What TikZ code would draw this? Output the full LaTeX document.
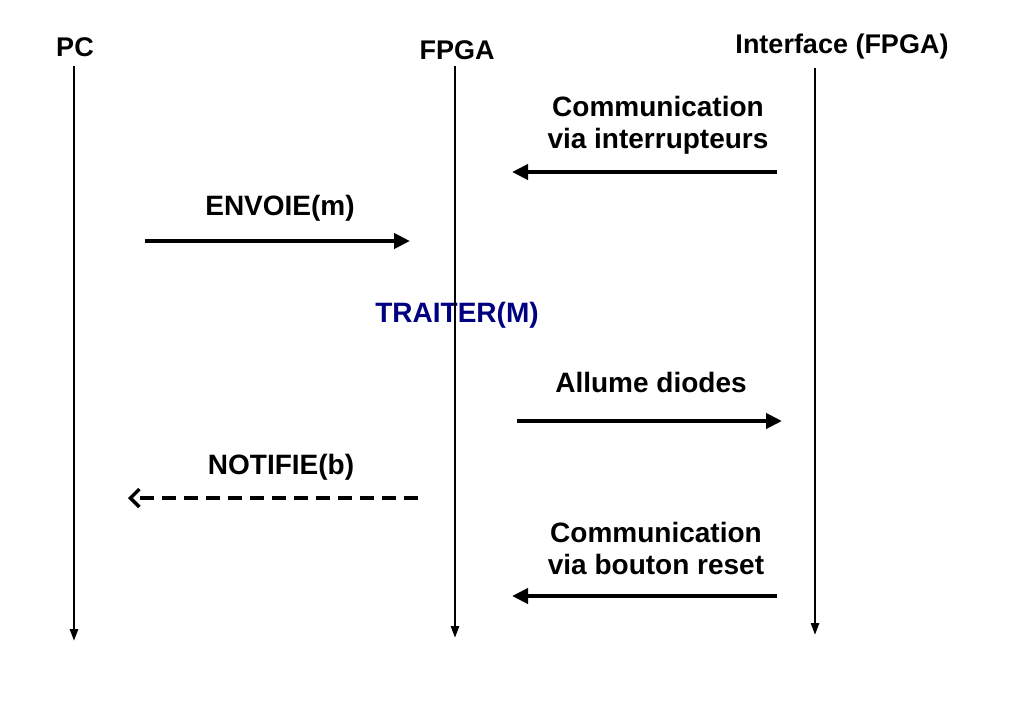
\documentclass[tikz,border=0pt]{standalone}
\usepackage{fontspec}
\setmainfont{Liberation Sans}
\usetikzlibrary{arrows.meta}
\definecolor{navyt}{RGB}{0,0,128}
\begin{document}
\begin{tikzpicture}[x=1pt,y=-1pt,
  head/.style={font=\bfseries\fontsize{27}{31}\selectfont, inner sep=0pt},
  lbl/.style={font=\bfseries\fontsize{28}{32}\selectfont, inner sep=0pt, align=center},
  life/.style={line width=2.6pt, -{Triangle[length=12pt,width=8pt]}},
  msg/.style={line width=4.5pt, -{Triangle[length=16pt,width=15pt]}},
  ret/.style={line width=4pt, dash pattern=on 14pt off 8pt, -{Straight Barb[length=9pt,width=18pt,line width=3.5pt]}}]
\useasboundingbox (0,0) rectangle (1024,720);
% headers
\node[head] (pc) at (75,47) {PC};
\node[head] (fpga) at (457,50) {FPGA};
\node[head] (itf) at (842,47) {Interface (FPGA)};
% lifelines
\coordinate (pcT) at (74,66); \coordinate (pcB) at (74,641);
\coordinate (fT) at (455,66); \coordinate (fB) at (455,638);
\coordinate (iT) at (815,68); \coordinate (iB) at (815,635);
% message end points
\coordinate (m1s) at (777,172); \coordinate (m1e) at (512,172);
\coordinate (m2s) at (145,241); \coordinate (m2e) at (410,241);
\coordinate (m3s) at (517,421); \coordinate (m3e) at (782,421);
\coordinate (m4s) at (418,498); \coordinate (m4e) at (128,498);
\coordinate (m5s) at (777,596); \coordinate (m5e) at (512,596);
% labels
\node[lbl] (l1) at (658,125) {Communication\\via interrupteurs};
\node[lbl] (l2) at (280,208) {ENVOIE(m)};
\node[lbl, text=navyt] (l3) at (457,315) {TRAITER(M)};
\node[lbl] (l4) at (651,382) {Allume diodes};
\node[lbl] (l5) at (281,467) {NOTIFIE(b)};
\node[lbl] (l6) at (656,548) {Communication\\via bouton reset};
% lifelines drawn
\draw[life] (pcT) -- (pcB);
\draw[life] (fT) -- (fB);
\draw[life] (iT) -- (iB);
% messages
\draw[msg] (m1s) -- (m1e);
\draw[msg] (m2s) -- (m2e);
\draw[msg] (m3s) -- (m3e);
\draw[ret] (m4s) -- (m4e);
\draw[msg] (m5s) -- (m5e);
\end{tikzpicture}
\end{document}
